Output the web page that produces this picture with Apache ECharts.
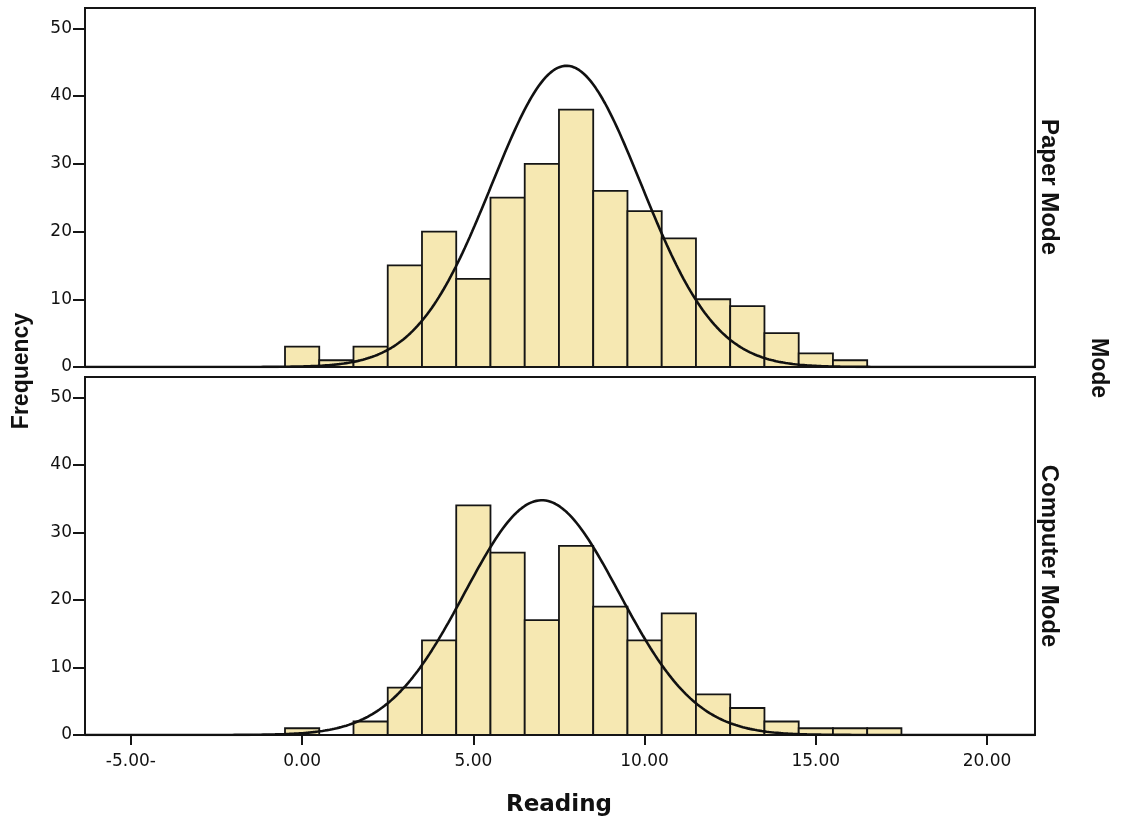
<!DOCTYPE html>
<html>
<head>
<meta charset="utf-8">
<title>Reading by Mode</title>
<script src="https://cdn.jsdelivr.net/npm/echarts@6/dist/echarts.min.js"></script>
<style>
  html, body { margin: 0; padding: 0; background: #ffffff; }
  #chart { width: 1128px; height: 823px; }
</style>
</head>
<body>
<div id="chart"></div>
<script>
// Histogram bins: width 1, centred on whole scores
const binCenters = [0, 1, 2, 3, 4, 5, 6, 7, 8, 9, 10, 11, 12, 13, 14, 15, 16, 17];
const paperFreq    = [3, 1, 3, 15, 20, 13, 25, 30, 38, 26, 23, 19, 10, 9, 5, 2, 1, 0];
const computerFreq = [1, 0, 2, 7, 14, 34, 27, 17, 28, 19, 14, 18, 6, 4, 2, 1, 1, 1];

// Normal curve parameters for each group (mean, standard deviation, N)
const paperNormal    = { mean: 7.72, sd: 2.18, n: 243 };
const computerNormal = { mean: 7.0,  sd: 2.25, n: 196 };

// Axis tick values and their printed labels
const xTickValues = [-5, 0, 5, 10, 15, 20];
const xTickLabels = ['-5.00-', '0.00', '5.00', '10.00', '15.00', '20.00'];
const yTickValues = [0, 10, 20, 30, 40, 50];

const panelNames = ['Paper Mode', 'Computer Mode'];

const X_MIN = -6.34, X_MAX = 21.4, Y_MAX = 53;
const BIN_WIDTH = 1;

function normalCurve(p) {
  const pts = [];
  const k = p.n * BIN_WIDTH / (p.sd * Math.sqrt(2 * Math.PI));
  for (let i = 0; i <= 400; i++) {
    const x = X_MIN + (X_MAX - X_MIN) * i / 400;
    const z = (x - p.mean) / p.sd;
    pts.push([x, k * Math.exp(-0.5 * z * z)]);
  }
  return pts;
}

function histData(freq) {
  return binCenters.map((c, i) => [c - BIN_WIDTH / 2, c + BIN_WIDTH / 2, freq[i]]);
}

function renderBar(params, api) {
  const lo = api.value(0), hi = api.value(1), count = api.value(2);
  if (!count) return null;
  const p0 = api.coord([lo, count]);
  const p1 = api.coord([hi, 0]);
  return {
    type: 'rect',
    shape: { x: p0[0], y: p0[1], width: p1[0] - p0[0], height: p1[1] - p0[1] },
    style: { fill: '#f6e8b2', stroke: '#151515', lineWidth: 1.8 }
  };
}

const axisColor = '#151515';
const tickFont = { fontFamily: 'DejaVu Sans', fontSize: 17, color: '#111111' };

function xAxisFor(gridIndex, showLabels) {
  return {
    type: 'value', gridIndex, min: X_MIN, max: X_MAX,
    splitLine: { show: false },
    axisLine: { show: true, onZero: false, lineStyle: { color: axisColor, width: 2 } },
    axisTick: { show: showLabels, customValues: xTickValues, length: 10, lineStyle: { color: axisColor, width: 2 } },
    axisLabel: {
      show: showLabels, customValues: xTickValues, margin: 18, ...tickFont,
      formatter: v => xTickLabels[xTickValues.indexOf(v)]
    }
  };
}

function yAxisFor(gridIndex) {
  return {
    type: 'value', gridIndex, min: 0, max: Y_MAX,
    splitLine: { show: false },
    axisLine: { show: true, onZero: false, lineStyle: { color: axisColor, width: 2 } },
    axisTick: { show: true, customValues: yTickValues, length: 12, lineStyle: { color: axisColor, width: 2 } },
    axisLabel: { show: true, customValues: yTickValues, margin: 13, ...tickFont }
  };
}

const titleFont = 'bold 23px "Liberation Sans", Arial, sans-serif';
const stripFont = 'bold 24px "Liberation Sans", Arial, sans-serif';

const chart = echarts.init(document.getElementById('chart'), null, { renderer: 'canvas' });
chart.setOption({
  animation: false,
  backgroundColor: '#ffffff',
  grid: [
    { left: 85, right: 93, top: 8, height: 359, show: true, borderColor: axisColor, borderWidth: 2, backgroundColor: 'transparent' },
    { left: 85, right: 93, top: 377, height: 358, show: true, borderColor: axisColor, borderWidth: 2, backgroundColor: 'transparent' }
  ],
  xAxis: [xAxisFor(0, false), xAxisFor(1, true)],
  yAxis: [yAxisFor(0), yAxisFor(1)],
  series: [
    { type: 'custom', name: panelNames[0], xAxisIndex: 0, yAxisIndex: 0, renderItem: renderBar,
      encode: { x: [0, 1], y: 2 }, data: histData(paperFreq), z: 2 },
    { type: 'line', xAxisIndex: 0, yAxisIndex: 0, data: normalCurve(paperNormal), showSymbol: false,
      lineStyle: { color: '#111', width: 2.6 }, z: 3, silent: true },
    { type: 'custom', name: panelNames[1], xAxisIndex: 1, yAxisIndex: 1, renderItem: renderBar,
      encode: { x: [0, 1], y: 2 }, data: histData(computerFreq), z: 2 },
    { type: 'line', xAxisIndex: 1, yAxisIndex: 1, data: normalCurve(computerNormal), showSymbol: false,
      lineStyle: { color: '#111', width: 2.6 }, z: 3, silent: true }
  ],
  graphic: [
    { type: 'text', x: 22, y: 371, rotation: Math.PI / 2,
      style: { text: 'Frequency', font: titleFont, fill: '#111', align: 'center', verticalAlign: 'middle' } },
    { type: 'text', x: 559, y: 805,
      style: { text: 'Reading', font: 'bold 23px "DejaVu Sans", sans-serif', fill: '#111', align: 'center', verticalAlign: 'middle' } },
    { type: 'text', x: 1049, y: 187, rotation: -Math.PI / 2,
      style: { text: panelNames[0], font: stripFont, fill: '#111', align: 'center', verticalAlign: 'middle' } },
    { type: 'text', x: 1049, y: 556, rotation: -Math.PI / 2,
      style: { text: panelNames[1], font: stripFont, fill: '#111', align: 'center', verticalAlign: 'middle' } },
    { type: 'text', x: 1098, y: 368, rotation: -Math.PI / 2,
      style: { text: 'Mode', font: titleFont, fill: '#111', align: 'center', verticalAlign: 'middle' } }
  ]
});
</script>
</body>
</html>
